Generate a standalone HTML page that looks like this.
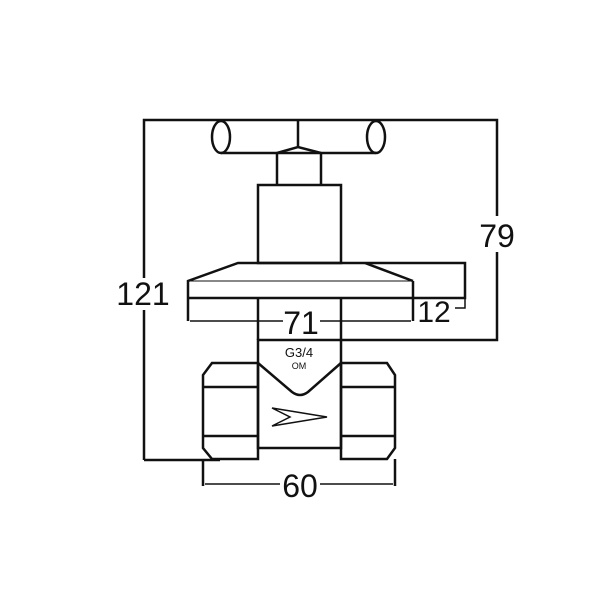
<!DOCTYPE html>
<html><head><style>body{margin:0;background:#fff}</style></head><body>
<svg width="600" height="600" viewBox="0 0 600 600" xmlns="http://www.w3.org/2000/svg">
<g fill="none" stroke="#111" stroke-width="2.5">
<polyline points="144,460 144,120 497,120 497,340 341,340"/>
<line x1="144" y1="460" x2="220" y2="460"/>
<ellipse cx="221" cy="137" rx="9" ry="16"/>
<ellipse cx="376" cy="137" rx="9" ry="16"/>
<line x1="221" y1="153" x2="376" y2="153"/>
<line x1="298" y1="120" x2="298" y2="147"/>
<polyline points="277,153 298,147 321,153"/>
<line x1="277" y1="153" x2="277" y2="185"/>
<line x1="321" y1="153" x2="321" y2="185"/>
<rect x="258" y="185" width="83" height="78"/>
<polyline points="188,321 188,281 238,263 465,263 465,298 188,298"/>
<line x1="365" y1="263" x2="413" y2="281"/>
<line x1="413" y1="281" x2="413" y2="321"/>
<line x1="188" y1="281" x2="413" y2="281" stroke-width="1"/>
<polyline points="465,298 465,308 455,308" stroke-width="1.5"/>
<line x1="258" y1="298" x2="258" y2="340"/>
<line x1="341" y1="298" x2="341" y2="340"/>
<rect x="258" y="340" width="83" height="108"/>
<path d="M258,363 L292,392 Q300,398 308,392 L341,363"/>
<path d="M258,363 H212 L203,375 V448 L212,459 H258 Z"/>
<line x1="203" y1="387" x2="258" y2="387"/><line x1="203" y1="436" x2="258" y2="436"/>
<path d="M341,363 H387 L395,375 V448 L387,459 H341 Z"/>
<line x1="341" y1="387" x2="395" y2="387"/><line x1="341" y1="436" x2="395" y2="436"/>
<line x1="203" y1="459" x2="203" y2="486"/><line x1="395" y1="459" x2="395" y2="486"/>
<path d="M272,408 L290,417 L272,426 L327,417 Z" stroke-width="1.5"/>
<line x1="190" y1="321" x2="283" y2="321" stroke-width="1.5"/><line x1="320" y1="321" x2="411" y2="321" stroke-width="1.5"/>
<line x1="205" y1="484" x2="280" y2="484" stroke-width="1.5"/><line x1="320" y1="484" x2="393" y2="484" stroke-width="1.5"/>
</g>
<g font-family="Liberation Sans, sans-serif" fill="#111" text-anchor="middle">
<rect x="116" y="278" width="54" height="32" fill="#fff"/>
<text x="143" y="305" font-size="32">121</text>
<rect x="476" y="216" width="44" height="36" fill="#fff"/>
<text x="497" y="247" font-size="32">79</text>
<text x="301" y="334" font-size="32">71</text>
<text x="434" y="322" font-size="30">12</text>
<text x="300" y="497" font-size="32">60</text>
<text x="299" y="357" font-size="13">G3/4</text>
<text x="299" y="369" font-size="9">OM</text>
</g>
</svg>
</body></html>
